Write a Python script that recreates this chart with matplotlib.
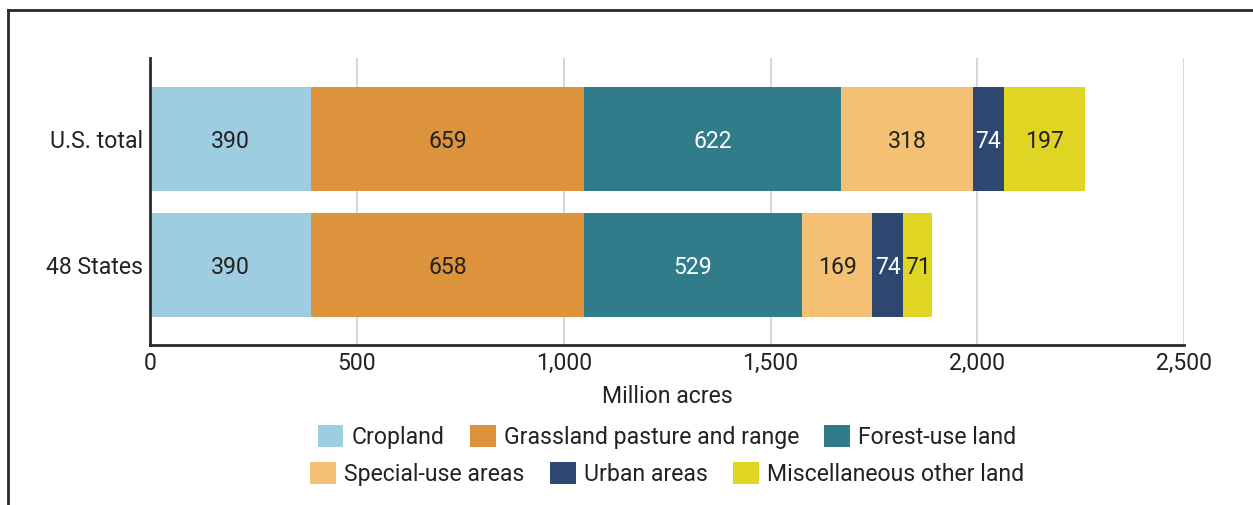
import matplotlib
matplotlib.use("Agg")
import matplotlib.pyplot as plt
from matplotlib.patches import Patch
from matplotlib.lines import Line2D
import numpy as np

plt.rcParams['font.family'] = ['Roboto', 'DejaVu Sans']

regions = ['48 States', 'U.S. total']
categories = ['Cropland', 'Grassland pasture and range', 'Forest-use land',
              'Special-use areas', 'Urban areas', 'Miscellaneous other land']
values_48 = [390, 658, 529, 169, 74, 71]
values_us = [390, 659, 622, 318, 74, 197]
colors = ['#9ecce0', '#dd923c', '#307c8a', '#f4c074', '#2d4770', '#dfd522']
label_colors = ['#222222', '#222222', 'white', '#222222', 'white', '#222222']
TEXT = '#222222'
FS = 16.6

fig = plt.figure(figsize=(12.53, 5.05), dpi=100)
ax = fig.add_axes([0.1197, 0.3168, 0.8255, 0.5683])

data = np.array([values_48, values_us])
left = np.zeros(2)
ypos = np.arange(len(regions))
for i, cat in enumerate(categories):
    ax.barh(ypos, data[:, i], left=left, height=0.822, color=colors[i], zorder=2)
    for j in range(2):
        ax.text(left[j] + data[j, i] / 2, ypos[j], str(data[j, i]),
                ha='center', va='center_baseline', fontsize=FS,
                color=label_colors[i], zorder=3)
    left += data[:, i]

ax.set_xlim(0, 2500)
ax.set_ylim(-0.63, 1.64)
ax.set_xticks(np.arange(0, 2501, 500))
ax.set_xticklabels(['0', '500', '1,000', '1,500', '2,000', '2,500'])
ax.set_yticks(ypos)
ax.set_yticklabels(regions)
ax.tick_params(length=0, labelsize=FS, colors=TEXT)
ax.tick_params(axis='x', pad=5)
ax.tick_params(axis='y', pad=5)
ax.grid(axis='x', color='#d0d0d0', linewidth=1.2, zorder=0)
for s in ['top', 'right']:
    ax.spines[s].set_visible(False)
for s in ['left', 'bottom']:
    ax.spines[s].set_color('#2a2a2a')
    ax.spines[s].set_linewidth(2)
ax.set_xlabel('Million acres', fontsize=FS, color=TEXT, labelpad=7)

# legend: two independently centred rows
handles = [Patch(facecolor=c, edgecolor='none') for c in colors]
kw = dict(ncol=3, loc='center', frameon=False, fontsize=FS,
          handlelength=1.12, handleheight=1.12, handletextpad=0.35,
          columnspacing=1.1, labelcolor=TEXT)
leg1 = fig.legend(handles[:3], categories[:3], bbox_to_anchor=(667 / 1253, 1 - 437 / 505), **kw)
leg2 = fig.legend(handles[3:], categories[3:], bbox_to_anchor=(667 / 1253, 1 - 474 / 505), **kw)

# outer frame (top and left edges)
fig.add_artist(Line2D([8 / 1253, 1], [1 - 10 / 505, 1 - 10 / 505], color='#2a2a2a', lw=2))
fig.add_artist(Line2D([8 / 1253, 8 / 1253], [0, 1 - 10 / 505], color='#2a2a2a', lw=2))

fig.savefig('out.png', dpi=100)
